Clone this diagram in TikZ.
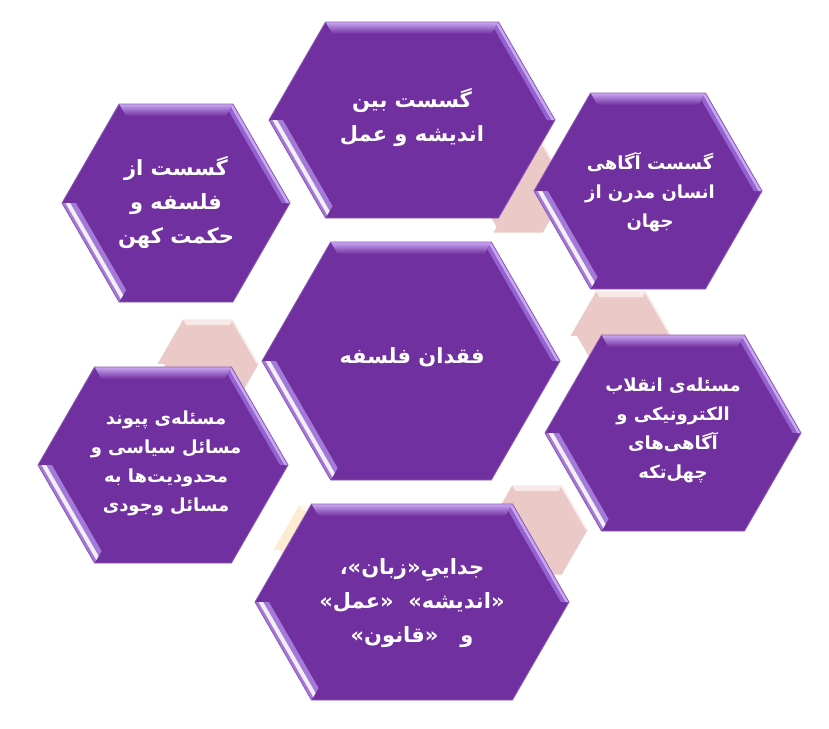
\documentclass[tikz,border=0pt]{standalone}
\usepackage{fontspec}
\newfontfamily\arabicfont[Script=Arabic]{DejaVu Sans}
\TeXXeTstate=1
\definecolor{hexpurple}{HTML}{7030A0}
\definecolor{bevellav}{HTML}{A47AD8}
\definecolor{bevellight}{HTML}{C9A8F2}
\definecolor{bevelmid}{HTML}{9563D0}
\definecolor{tissue}{HTML}{EBC9C7}
\definecolor{tissuelight}{HTML}{F8E9E8}
\definecolor{cream}{HTML}{FDEBD2}
\definecolor{creamlight}{HTML}{FFF7EC}

% one line of persian text
\newcommand{\fa}[1]{\beginR #1\endR}

% corners of a hexagon: prefix, cx, cy, half width, half height
\newcommand{\hexcorners}[5]{%
  \pgfmathsetmacro\hxa{#2-(#4)}%
  \pgfmathsetmacro\hxb{#2-(#4)+0.577*(#5)}%
  \pgfmathsetmacro\hxc{#2+(#4)-0.577*(#5)}%
  \pgfmathsetmacro\hxd{#2+(#4)}%
  \pgfmathsetmacro\hyt{#3-(#5)}%
  \pgfmathsetmacro\hyb{#3+(#5)}%
  \coordinate (#1L) at (\hxa,#3);
  \coordinate (#1TL) at (\hxb,\hyt);
  \coordinate (#1TR) at (\hxc,\hyt);
  \coordinate (#1R) at (\hxd,#3);
  \coordinate (#1BR) at (\hxc,\hyb);
  \coordinate (#1BL) at (\hxb,\hyb);}

% purple hexagon with bevel: cx, cy, half width, half height
\newcommand{\purplehex}[4]{%
  \hexcorners{a}{#1}{#2}{#3}{#4}
  \hexcorners{b}{#1}{#2}{#3-3.5}{#4-3}
  \hexcorners{c}{#1}{#2}{#3-8.1}{#4-7}
  \hexcorners{d}{#1}{#2}{#3-13.9}{#4-12}
  \fill[hexpurple] (aL) -- (aTL) -- (aTR) -- (aR) -- (aBR) -- (aBL) -- cycle;
  \shade[top color=bevellight, bottom color=hexpurple] (aTL) -- (aTR) -- (dTR) -- (dTL) -- cycle;
  \fill[bevelmid] (aTR) -- (aR) -- (cR) -- (cTR) -- cycle;
  \fill[bevellight] (aTR) -- (aR) -- (bR) -- (bTR) -- cycle;
  \fill[bevellav] (aL) -- (aBL) -- (dBL) -- (dL) -- cycle;
  \fill[white!92!hexpurple] (bL) -- (bBL) -- (cBL) -- (cL) -- cycle;
  \draw[hexpurple!80!white, line width=0.8pt] (aL) -- (aTL) -- (aTR) -- (aR) -- (aBR) -- (aBL) -- cycle;}

% small tissue hexagon: cx, cy, fill, light
\newcommand{\softhex}[4]{%
  \hexcorners{a}{#1}{#2}{51}{45}
  \hexcorners{b}{#1}{#2}{51-2.3}{45-2}
  \hexcorners{c}{#1}{#2}{51-6.9}{45-6}
  \fill[#3] (aL) -- (aTL) -- (aTR) -- (aR) -- (aBR) -- (aBL) -- cycle;
  \fill[#4] (aTL) -- (aTR) -- (cTR) -- (cTL) -- cycle;
  \fill[#4] (aTR) -- (aR) -- (bR) -- (bTR) -- cycle;
  \fill[white] (aL) -- (aBL) -- (cBL) -- (cL) -- cycle;
  \draw[white, line width=0.6pt] (aL) -- (aTL) -- (aTR) -- (aR) -- (aBR) -- (aBL) -- cycle;}

\tikzset{
  hextext/.style={text=white, align=center, inner sep=0pt},
  bigfa/.style={font=\arabicfont\bfseries\fontsize{21}{34}\selectfont},
  smallfa/.style={font=\arabicfont\bfseries\fontsize{18}{29}\selectfont}
}

\begin{document}
\begin{tikzpicture}[x=1pt, y=-1pt]
\useasboundingbox (0,0) rectangle (829,728);
% tissue hexagons behind
\softhex{518}{188}{tissue}{tissuelight}
\softhex{208}{364}{tissue}{tissuelight}
\softhex{621}{336}{tissue}{tissuelight}
\softhex{537}{530}{tissue}{tissuelight}
\softhex{324}{550}{cream}{creamlight}
% purple hexagons
\purplehex{412}{120}{143}{98}
\purplehex{176}{203}{114}{99}
\purplehex{648}{191}{114}{98}
\purplehex{411}{361}{149}{119}
\purplehex{673}{433}{128}{98}
\purplehex{163}{465}{125}{98}
\purplehex{412}{602}{157}{98}
% texts
\node[hextext, bigfa] (top) at (412,118) {\fa{گسست بین}\\\fa{اندیشه و عمل}};
\node[hextext, bigfa] (topleft) at (176,203) {\fa{گسست از}\\\fa{فلسفه و}\\\fa{حکمت کهن}};
\node[hextext, smallfa] (topright) at (650,192) {\fa{گسست آگاهی}\\\fa{انسان مدرن از}\\\fa{جهان}};
\node[hextext, bigfa] (centre) at (412,357) {\fa{فقدان فلسفه}};
\node[hextext, smallfa] (botright) at (673,430) {\fa{مسئله‌ی  انقلاب}\\\fa{الکترونیکی و}\\\fa{آگاهی‌های}\\\fa{چهل‌تکه}};
\node[hextext, smallfa] (botleft) at (166,463) {\fa{مسئله‌ی پیوند}\\\fa{مسائل سیاسی و}\\\fa{محدودیت‌ها به}\\\fa{مسائل وجودی}};
% words of the quoted lines set left to right as seen (the font mirrors the quote marks)
\node[hextext, bigfa] (bottom) at (412,603) {\fa{،}»\fa{زبان}«\fa{جداییِ}\\
  »\fa{عمل}«\ \ »\fa{اندیشه}«\\
  »\fa{قانون}«\ \ \ \fa{و}};
\end{tikzpicture}
\end{document}
